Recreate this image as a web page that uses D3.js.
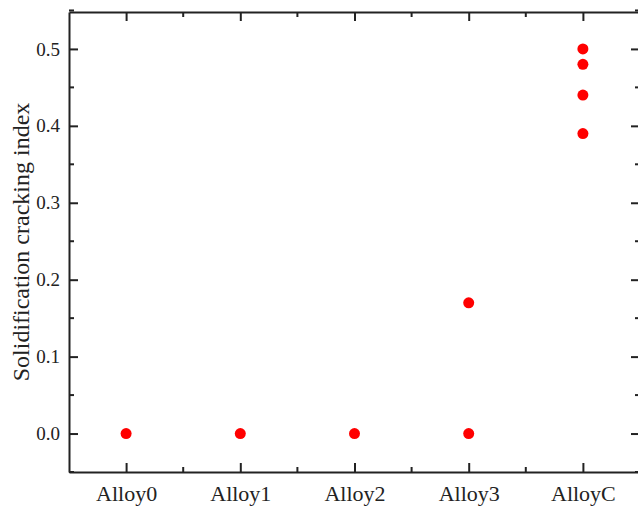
<!DOCTYPE html>
<html>
<head>
<meta charset="utf-8">
<script src="https://cdn.jsdelivr.net/npm/d3@7"></script>
<style>
  body { margin: 0; background: #fff; }
  text { font-family: "Times New Roman", Times, "Liberation Serif", serif; fill: #222; }
</style>
</head>
<body>
<div id="chart"></div>
<script>
// categories and values
var categories = ["Alloy0", "Alloy1", "Alloy2", "Alloy3", "AlloyC"];
var alloyNames = ["Alloy0", "Alloy1", "Alloy2", "Alloy3", "Alloy3", "AlloyC", "AlloyC", "AlloyC", "AlloyC"];
var crackIndex = [0.0, 0.0, 0.0, 0.0, 0.17, 0.50, 0.48, 0.44, 0.39];
var yTicks = [0.0, 0.1, 0.2, 0.3, 0.4, 0.5];

var W = 638, H = 507;
var plot = {left: 69, right: 640, top: 12, bottom: 472};
var serif = '"Times New Roman", Times, "Liberation Serif", serif';

var svg = d3.select("#chart").append("svg")
    .attr("width", W)
    .attr("height", H);

var x = d3.scalePoint()
    .domain(categories)
    .range([plot.left, plot.right])
    .padding(0.5);

var y = d3.scaleLinear()
    .domain([-0.05, 0.548])
    .range([plot.bottom, plot.top]);

var step = x.step();
var minorX = categories.slice(0, -1).map(function(c) { return x(c) + step / 2; });
var minorY = d3.range(-0.05, 0.56, 0.1).map(function(v) { return +v.toFixed(2); });

// bottom axis
var gb = svg.append("g").attr("transform", "translate(0," + plot.bottom + ")");
gb.call(d3.axisBottom(x).tickSize(0).tickPadding(13));
gb.selectAll(".tick").append("line").attr("y2", -9);
gb.selectAll(".minor").data(minorX).enter().append("line")
    .attr("x1", function(d) { return d; }).attr("x2", function(d) { return d; })
    .attr("y1", 0).attr("y2", -5);

// top axis
var gt = svg.append("g").attr("transform", "translate(0," + plot.top + ")");
gt.call(d3.axisTop(x).tickSize(0).tickFormat(""));
gt.selectAll(".tick").append("line").attr("y2", 9);
gt.selectAll(".minor").data(minorX).enter().append("line")
    .attr("x1", function(d) { return d; }).attr("x2", function(d) { return d; })
    .attr("y1", 0).attr("y2", 5);

// left axis
var gl = svg.append("g").attr("transform", "translate(" + plot.left + ",0)");
gl.call(d3.axisLeft(y).tickValues(yTicks).tickFormat(d3.format(".1f")).tickSize(0).tickPadding(9));
gl.selectAll(".tick").append("line").attr("x2", 9);
gl.selectAll(".minor").data(minorY).enter().append("line")
    .attr("y1", function(d) { return y(d); }).attr("y2", function(d) { return y(d); })
    .attr("x1", 0).attr("x2", 5);

// right axis
var gr = svg.append("g").attr("transform", "translate(" + plot.right + ",0)");
gr.call(d3.axisRight(y).tickValues(yTicks).tickSize(0).tickFormat(""));
gr.selectAll(".tick").append("line").attr("x2", -9);
gr.selectAll(".minor").data(minorY).enter().append("line")
    .attr("y1", function(d) { return y(d); }).attr("y2", function(d) { return y(d); })
    .attr("x1", 0).attr("x2", -5);

svg.selectAll(".domain").attr("stroke", "#222").attr("stroke-width", 2);
svg.selectAll("line").attr("stroke", "#222").attr("stroke-width", 2);
svg.selectAll(".tick text").attr("font-size", 19).attr("fill", "#222")
    .style("font-family", serif);
gb.selectAll(".tick text").attr("font-size", 22);

// points
svg.append("g").selectAll("circle")
    .data(crackIndex)
    .enter().append("circle")
    .attr("cx", function(d, i) { return x(alloyNames[i]); })
    .attr("cy", function(d) { return y(d); })
    .attr("r", 5.5)
    .attr("fill", "#ff0000");

// y label
svg.append("text")
    .attr("transform", "translate(29," + ((plot.top + plot.bottom) / 2) + ") rotate(-90)")
    .attr("text-anchor", "middle")
    .attr("font-size", 24)
    .style("font-family", serif)
    .text("Solidification cracking index");
</script>
</body>
</html>
